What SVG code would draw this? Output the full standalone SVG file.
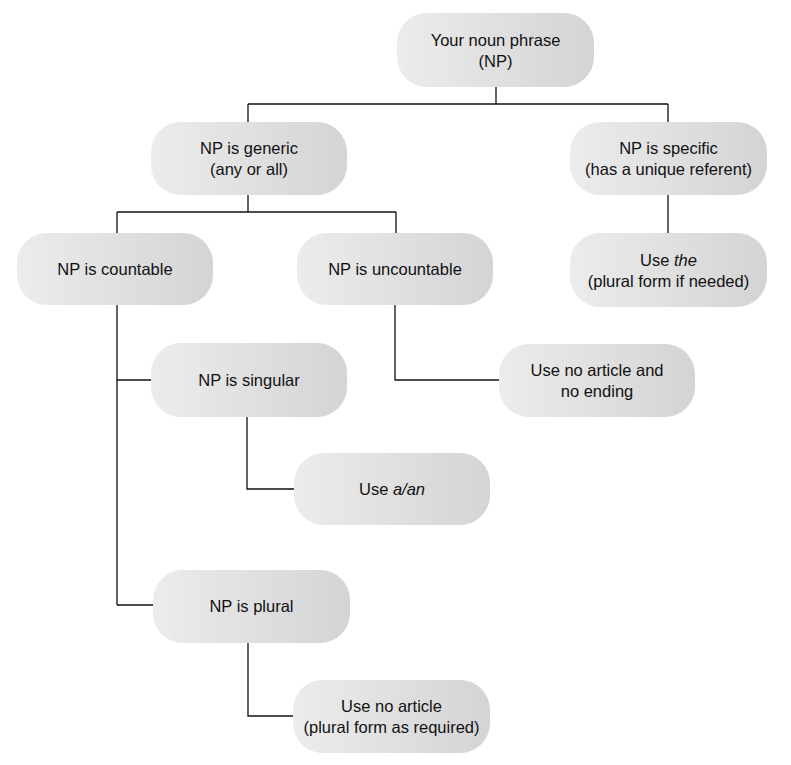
<svg xmlns="http://www.w3.org/2000/svg" width="791" height="765" viewBox="0 0 791 765">
<defs>
<linearGradient id="g" x1="0" y1="0" x2="1" y2="0">
<stop offset="0" stop-color="#ececec"/>
<stop offset="1" stop-color="#d4d4d6"/>
</linearGradient>
<style>
.box{fill:url(#g);stroke:none}
.t{font-family:"Liberation Sans",Arial,sans-serif;font-size:16.5px;fill:#111;text-anchor:middle}
.c{fill:none;stroke:#111;stroke-width:1.3}
</style>
</defs>
<rect width="791" height="765" fill="#fff"/>
<g id="connectors">
<path class="c" d="M496 87V104M248 104H668M248 104V122M668 104V122"/>
<path class="c" d="M248 194V212M117 212H396M117 212V233M396 212V233"/>
<path class="c" d="M668 194V233"/>
<path class="c" d="M117 305V605M117 380H151M117 605H153"/>
<path class="c" d="M395 305V380H499"/>
<path class="c" d="M247 417V489H294"/>
<path class="c" d="M248 643V716H293"/>
</g>
<g id="root"><rect class="box" x="397" y="13" width="197" height="74" rx="30"/><text class="t" x="495.5" y="46">Your noun phrase</text><text class="t" x="495.5" y="67">(NP)</text></g>
<g id="generic"><rect class="box" x="151" y="122" width="196" height="73" rx="30"/><text class="t" x="249" y="154">NP is generic</text><text class="t" x="249" y="175">(any or all)</text></g>
<g id="specific"><rect class="box" x="570" y="122" width="197" height="73" rx="30"/><text class="t" x="668.5" y="154">NP is specific</text><text class="t" x="668.5" y="175">(has a unique referent)</text></g>
<g id="countable"><rect class="box" x="17" y="233" width="196" height="72" rx="30"/><text class="t" x="115" y="275">NP is countable</text></g>
<g id="uncountable"><rect class="box" x="297" y="233" width="196" height="72" rx="30"/><text class="t" x="395" y="275">NP is uncountable</text></g>
<g id="use-the"><rect class="box" x="570" y="233" width="197" height="74" rx="30"/><text class="t" x="668.5" y="266">Use <tspan font-style="italic">the</tspan></text><text class="t" x="668.5" y="287">(plural form if needed)</text></g>
<g id="no-article-no-ending"><rect class="box" x="499" y="344" width="196" height="73" rx="30"/><text class="t" x="597" y="376">Use no article and</text><text class="t" x="597" y="397">no ending</text></g>
<g id="singular"><rect class="box" x="151" y="343" width="196" height="74" rx="30"/><text class="t" x="249" y="386">NP is singular</text></g>
<g id="use-a-an"><rect class="box" x="294" y="453" width="196" height="72" rx="30"/><text class="t" x="392" y="495">Use <tspan font-style="italic">a/an</tspan></text></g>
<g id="plural"><rect class="box" x="153" y="570" width="197" height="73" rx="30"/><text class="t" x="251.5" y="612">NP is plural</text></g>
<g id="use-no-article"><rect class="box" x="293" y="680" width="197" height="73" rx="30"/><text class="t" x="391.5" y="712">Use no article</text><text class="t" x="391.5" y="733">(plural form as required)</text></g>
</svg>
